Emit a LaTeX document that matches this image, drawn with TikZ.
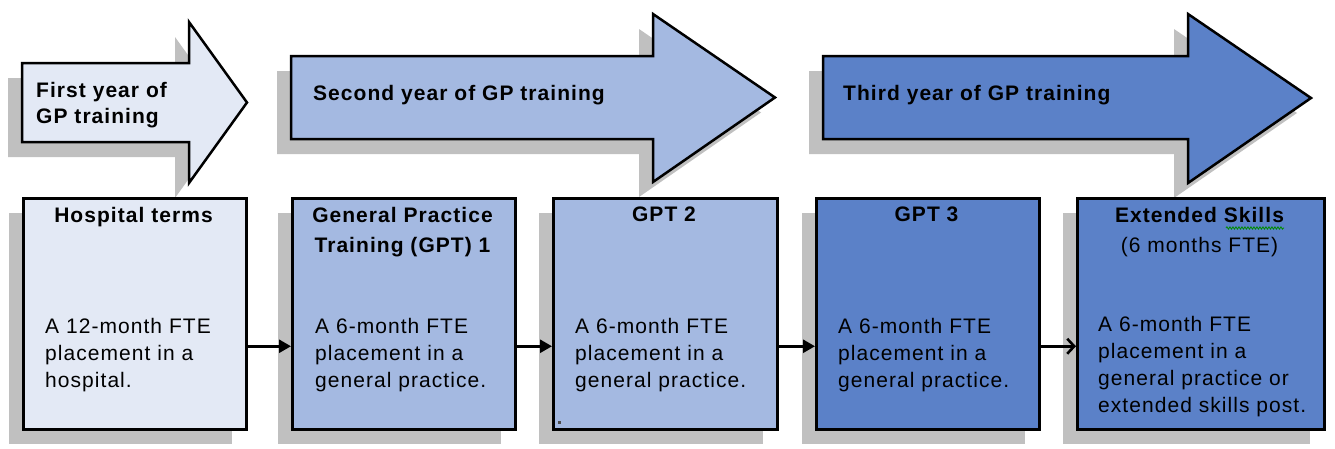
\documentclass[tikz,border=0pt]{standalone}
\usepackage{fontspec}
\setmainfont{Liberation Sans}[LetterSpace=5]
\usetikzlibrary{arrows.meta,shadows,decorations.pathmorphing}
\definecolor{lightblue}{HTML}{E3E9F5}
\definecolor{midblue}{HTML}{A4B9E1}
\definecolor{darkblue}{HTML}{5B81C8}
\definecolor{shadowgray}{HTML}{C0C0C0}
\tikzset{
  shd/.style={drop shadow={shadow xshift=-14pt, shadow yshift=-15pt, opacity=1, fill=shadowgray}},
  bigarrow/.style={draw=black, line width=2.5pt, line join=miter, shd},
  stagebox/.style={draw=black, line width=2.5pt, rectangle, anchor=north west, inner sep=0pt, shd},
  arrowtext/.style={anchor=north west, inner sep=0pt, align=left, font={\fontsize{21}{26}\selectfont\bfseries}},
  titletext/.style={anchor=north, inner sep=0pt, align=center, font={\fontsize{21}{30}\selectfont\bfseries}},
  bodytext/.style={anchor=north west, inner sep=0pt, align=left, font={\fontsize{21}{27}\selectfont}},
  conn/.style={line width=2.6pt, -{Triangle[length=12pt,width=13pt]}},
  connopen/.style={line width=2.6pt, -{Straight Barb[length=7pt,width=15pt,line width=2.6pt]}}
}
\begin{document}
\begin{tikzpicture}[x=1pt,y=-1pt]
\useasboundingbox (0,0) rectangle (1335,448);
% big arrows
\draw[bigarrow, fill=lightblue] (22,63) -- (189,63) -- (189,22) -- (247,102.5) -- (189,183) -- (189,142) -- (22,142) -- cycle;
\draw[bigarrow, fill=midblue] (291,56) -- (653,56) -- (653,14) -- (775,97.5) -- (653,182) -- (653,139) -- (291,139) -- cycle;
\draw[bigarrow, fill=darkblue] (823,56) -- (1188,56) -- (1188,14) -- (1311,98) -- (1188,183) -- (1188,139) -- (823,139) -- cycle;
\node[arrowtext] (a1) at (36,82) {First year of\\GP training};
\node[arrowtext] (a2) at (313,85) {Second year of GP training};
\node[arrowtext] (a3) at (843,85) {Third year of GP training};
% stage boxes
\node[stagebox, fill=lightblue, minimum width=223pt, minimum height=231pt] (b1) at (22,197) {};
\node[stagebox, fill=midblue, minimum width=223pt, minimum height=231pt] (b2) at (291,197) {};
\node[stagebox, fill=midblue, minimum width=224pt, minimum height=231pt] (b3) at (552,197) {};
\node[stagebox, fill=darkblue, minimum width=223pt, minimum height=231pt] (b4) at (815,197) {};
\node[stagebox, fill=darkblue, minimum width=247pt, minimum height=231pt] (b5) at (1076,197) {};
% titles
\node[titletext] (t1) at (133.5,207) {Hospital terms};
\node[titletext] (t2) at (402.5,207) {General Practice\\Training (GPT) 1};
\node[titletext] (t3) at (664,207) {GPT 2};
\node[titletext] (t4) at (926.5,207) {GPT 3};
\node[titletext] (t5) at (1199.5,207) {Extended Skills\\\mdseries (6 months FTE)};
\draw[green!55!black, line width=0.8pt, decorate, decoration={snake, amplitude=1.2pt, segment length=3pt}] (1226,228) -- (1284,228);
% body texts
\node[bodytext] (d1) at (45,318) {A 12-month FTE\\placement in a\\hospital.};
\node[bodytext] (d2) at (315,318) {A 6-month FTE\\placement in a\\general practice.};
\node[bodytext] (d3) at (575,318) {A 6-month FTE\\placement in a\\general practice.};
\node[bodytext] (d4) at (838,318) {A 6-month FTE\\placement in a\\general practice.};
\node[bodytext] (d5) at (1098,316) {A 6-month FTE\\placement in a\\general practice or\\extended skills post.};
\fill[black!70] (558,421) rectangle (561,424);
% connectors
\draw[conn] ([yshift=-32.5pt]b1.east) -- ([yshift=-32.5pt]b2.west);
\draw[conn] ([yshift=-32.5pt]b2.east) -- ([yshift=-32.5pt]b3.west);
\draw[conn] ([yshift=-32.5pt]b3.east) -- ([yshift=-32.5pt]b4.west);
\draw[connopen] ([yshift=-32.5pt]b4.east) -- ([yshift=-32.5pt]b5.west);
\end{tikzpicture}
\end{document}
